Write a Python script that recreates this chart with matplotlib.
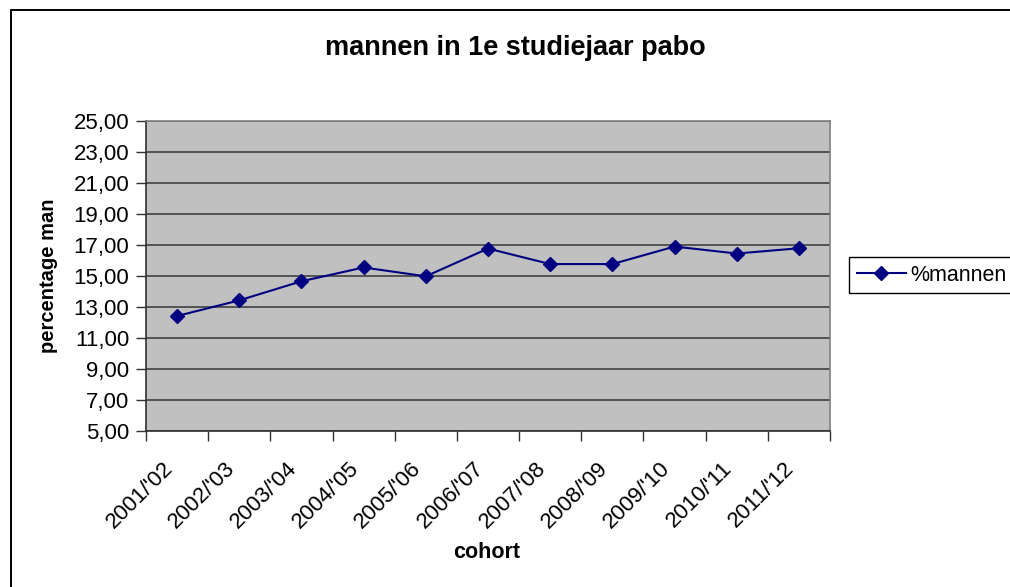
import matplotlib.pyplot as plt
import matplotlib.transforms as mtransforms
import numpy as np
from matplotlib.patches import Rectangle

# data
cohorts = ["2001/'02", "2002/'03", "2003/'04", "2004/'05", "2005/'06", "2006/'07",
           "2007/'08", "2008/'09", "2009/'10", "2010/'11", "2011/'12"]
pct_mannen = [12.42, 13.43, 14.66, 15.55, 14.98, 16.77, 15.77, 15.77, 16.90, 16.45, 16.79]
y_ticks = [5, 7, 9, 11, 13, 15, 17, 19, 21, 23, 25]

FONT = 'Liberation Sans'
NAVY = '#000080'

plt.rcParams['font.family'] = [FONT, 'DejaVu Sans']

fig = plt.figure(figsize=(10.1, 5.87), dpi=100)
ax = fig.add_axes([146 / 1010, 1 - 431 / 587, 684 / 1010, 310 / 587])

# outer chart frame (cut off at right and bottom)
fig.patches.append(Rectangle((11 / 1010, -0.2), 1.2, 1.2 - 10 / 587, transform=fig.transFigure,
                             fill=False, edgecolor='black', linewidth=1.4))

x = np.arange(len(cohorts))
ax.set_facecolor('#c0c0c0')
ax.plot(x, pct_mannen, color=NAVY, linewidth=1.5, marker='D', markersize=7,
        markerfacecolor=NAVY, markeredgecolor=NAVY, label='%mannen', zorder=3)

ax.set_xlim(-0.5, len(cohorts) - 0.5)
ax.set_ylim(5, 25)
ax.set_yticks(y_ticks)
ax.set_yticklabels(['%d,00' % v for v in y_ticks], fontsize=16)
ax.yaxis.grid(True, color='#404040', linewidth=1.2)
ax.set_axisbelow(True)

# ticks between categories, labels at category centres
ax.set_xticks(np.arange(len(cohorts) + 1) - 0.5)
ax.set_xticklabels([])
ax.set_xticks(x, minor=True)
ax.set_xticklabels(cohorts, minor=True, rotation=45, ha='right', va='top',
                   rotation_mode='anchor', fontsize=16)
ax.tick_params(axis='x', which='minor', length=0, pad=15)
shift = mtransforms.ScaledTranslation(-0.15, -0.06, fig.dpi_scale_trans)
for lbl in ax.get_xticklabels(minor=True):
    lbl.set_transform(lbl.get_transform() + shift)
ax.tick_params(axis='both', which='major', direction='out', length=7, width=1, color='#303030')
ax.tick_params(axis='y', which='major', pad=5)

for side in ['top', 'right']:
    ax.spines[side].set_color('#808080')
    ax.spines[side].set_linewidth(1.2)
for side in ['left', 'bottom']:
    ax.spines[side].set_color('#303030')
    ax.spines[side].set_linewidth(1.2)

ax.set_ylabel('percentage man', fontsize=14.5, fontweight='bold', labelpad=11)
fig.text(487 / 1010, 1 - 553 / 587, 'cohort', fontsize=15.5, fontweight='bold',
         ha='center', va='center')
fig.text(515 / 1010, 1 - 48 / 587, 'mannen in 1e studiejaar pabo', fontsize=19.5,
         fontweight='bold', ha='center', va='center')

leg = fig.legend(loc='upper left', bbox_to_anchor=(849 / 1010, 1 - 257 / 587), borderaxespad=0,
                 fontsize=15.5, fancybox=False, edgecolor='black', framealpha=1,
                 handlelength=2.3, handletextpad=0.2, borderpad=0.35)
leg.get_frame().set_linewidth(1.0)

fig.savefig('out.png', dpi=100)
